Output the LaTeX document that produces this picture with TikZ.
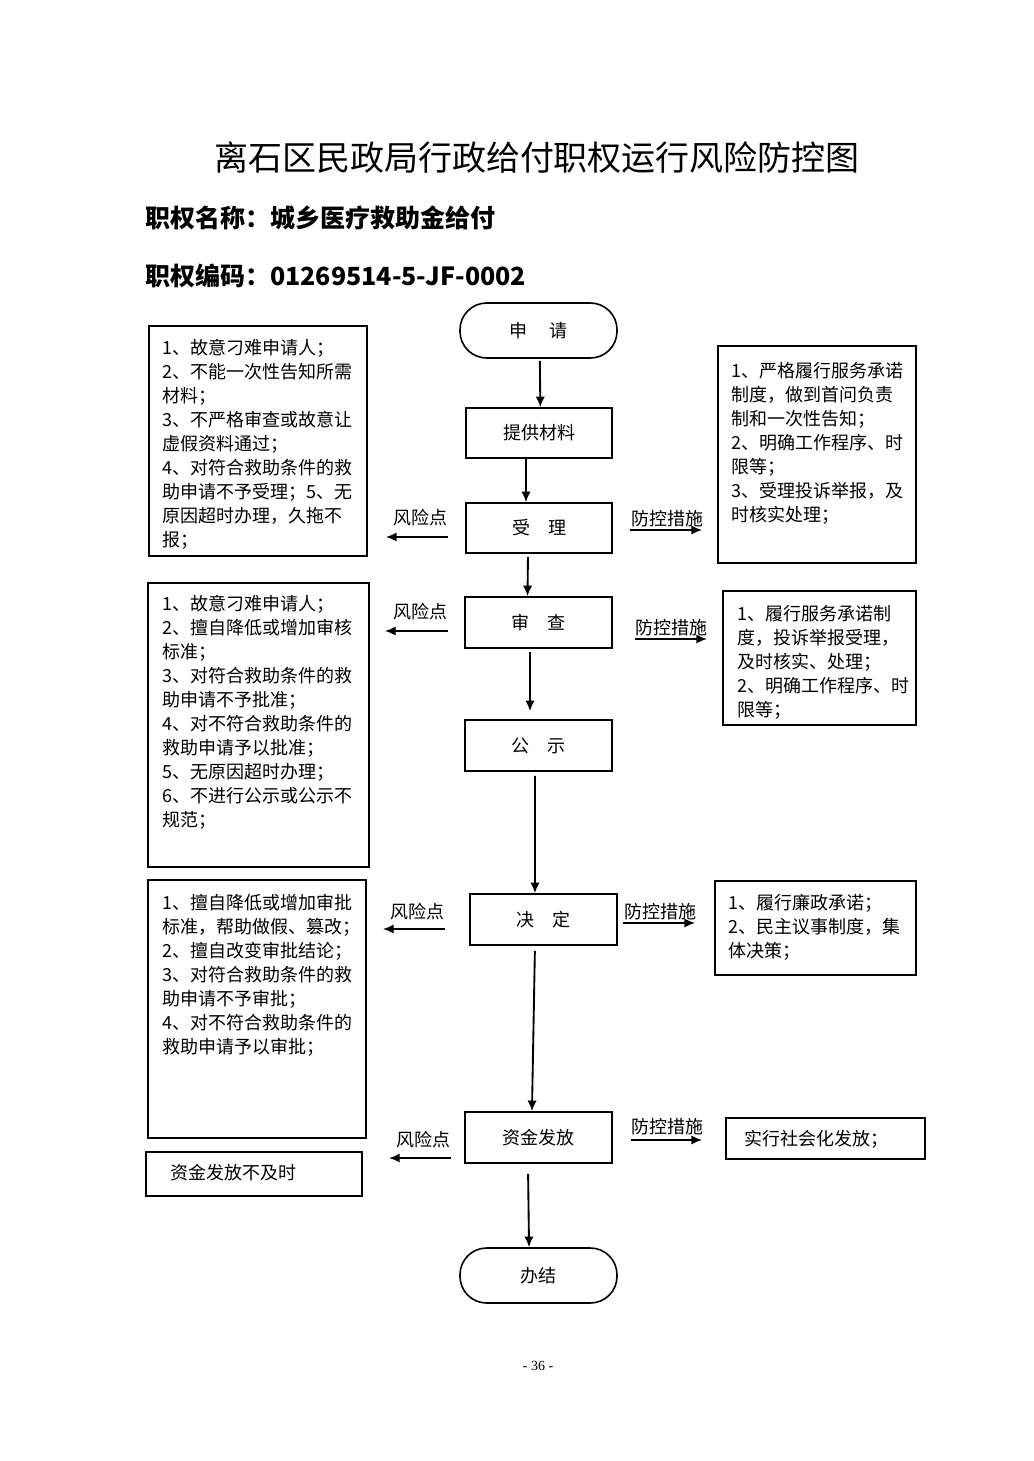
\documentclass[tikz,border=0pt]{standalone}
\usepackage{fontspec}
\setmainfont{Noto Sans CJK SC}
\newfontfamily\pnfont{Liberation Serif}
\usetikzlibrary{arrows.meta,fit}
\begin{document}
\begin{tikzpicture}[x=0.75pt,y=-0.75pt,
  bodyfont/.style={font=\fontsize{13.5pt}{18pt}\selectfont},
  flowbox/.style={draw,line width=1.2pt,inner sep=0pt},
  termbox/.style={draw,line width=1.2pt,rounded corners=20pt,inner sep=0pt},
  inlbl/.style={label={[bodyfont,inner sep=0pt]center:#1}},
  sidebox/.style={draw,line width=1.2pt,inner sep=0pt},
  sidetext/.style={anchor=north west,inner sep=0pt,align=left,bodyfont},
  flow/.style={line width=1.4pt,-{Latex[length=8pt,width=7pt]}},
  lbl/.style={inner sep=0pt,bodyfont}
]
\fill[white] (0,0) rectangle (1033,1461);
\useasboundingbox (0,0) rectangle (1033,1461);

% titles
\node[inner sep=0pt,font=\fontsize{25.5pt}{30pt}\selectfont] (title) at (537,158) {离石区民政局行政给付职权运行风险防控图};
\node[anchor=west,inner sep=0pt,font=\fontsize{18.75pt}{22pt}\selectfont\bfseries] (name) at (145,218) {职权名称：城乡医疗救助金给付};
\node[anchor=west,inner sep=0pt,font=\fontsize{18.75pt}{22pt}\selectfont\bfseries] (code) at (145,276) {职权编码：01269514-5-JF-0002};

% flow nodes
\node[termbox,fit={(460,303)(617,358)},inlbl={申\hspace{16pt}请}] (sq) {};
\node[flowbox,fit={(466,408)(612,458)},inlbl={提供材料}] (tg) {};
\node[flowbox,fit={(466,503)(612,553)},inlbl={受\hspace{13.5pt}理}] (sl) {};
\node[flowbox,fit={(465,597)(612,648)},inlbl={审\hspace{13.5pt}查}] (sc) {};
\node[flowbox,fit={(465,720)(612,771)},inlbl={公\hspace{13.5pt}示}] (gs) {};
\node[flowbox,fit={(470,894)(617,945)},inlbl={决\hspace{13.5pt}定}] (jd) {};
\node[flowbox,fit={(465,1112)(612,1163)},inlbl={资金发放}] (zj) {};
\node[termbox,fit={(460,1248)(617,1303)},inlbl={办结}] (bj) {};

% flow connectors
\draw[flow,shorten <=1.5pt] ([xshift=1pt]sq.south) -- ([xshift=1pt]tg.north);
\draw[flow] ([xshift=-9.75pt]tg.south) -- ([xshift=-9.75pt]sl.north);
\draw[flow,shorten <=2.25pt] ([xshift=-8.25pt]sl.south) -- ([xshift=-8.25pt]sc.north);
\draw[flow,shorten <=2.5pt,shorten >=6pt] ([xshift=-6.4pt]sc.south) -- ([xshift=-6.4pt]gs.north);
\draw[flow,shorten <=3pt] ([xshift=-2.6pt]gs.south) -- ([xshift=-6.4pt]jd.north);
\draw[flow,shorten <=3.75pt] ([xshift=-6.4pt]jd.south) -- ([xshift=-4.9pt]zj.north);
\draw[flow,shorten <=7.5pt] ([xshift=-7.9pt]zj.south) -- ([xshift=-7.1pt]bj.north);

% left risk boxes
\node[sidebox,fit={(149,326)(367,556)}] (L1) {};
\node[sidetext] (L1t) at (162,339) {1、故意刁难申请人；\\2、不能一次性告知所需\\材料；\\3、不严格审查或故意让\\虚假资料通过；\\4、对符合救助条件的救\\助申请不予受理；5、无\\原因超时办理，久拖不\\报；};
\node[sidebox,fit={(148,583)(369,867)}] (L2) {};
\node[sidetext] (L2t) at (162,595) {1、故意刁难申请人；\\2、擅自降低或增加审核\\标准；\\3、对符合救助条件的救\\助申请不予批准；\\4、对不符合救助条件的\\救助申请予以批准；\\5、无原因超时办理；\\6、不进行公示或公示不\\规范；};
\node[sidebox,fit={(148,880)(366,1138)}] (L3) {};
\node[sidetext] (L3t) at (162,894) {1、擅自降低或增加审批\\标准，帮助做假、篡改；\\2、擅自改变审批结论；\\3、对符合救助条件的救\\助申请不予审批；\\4、对不符合救助条件的\\救助申请予以审批；};
\node[sidebox,fit={(146,1152)(362,1196)}] (L4) {};
\node[lbl] (L4t) at (233,1173) {资金发放不及时};

% right measure boxes
\node[sidebox,fit={(718,346)(916,563)}] (R1) {};
\node[sidetext] (R1t) at (731,362) {1、严格履行服务承诺\\制度，做到首问负责\\制和一次性告知；\\2、明确工作程序、时\\限等；\\3、受理投诉举报，及\\时核实处理；};
\node[sidebox,fit={(723,591)(916,725)}] (R2) {};
\node[sidetext] (R2t) at (737,605) {1、履行服务承诺制\\度，投诉举报受理，\\及时核实、处理；\\2、明确工作程序、时\\限等；};
\node[sidebox,fit={(715,881)(916,975)}] (R3) {};
\node[sidetext] (R3t) at (728,894) {1、履行廉政承诺；\\2、民主议事制度，集\\体决策；};
\node[sidebox,fit={(726,1118)(925,1159)}] (R4) {};
\node[lbl] (R4t) at (816,1139) {实行社会化发放；};

% side arrows and labels
\coordinate (a1s) at (448,537); \coordinate (a1e) at (386,537);
\coordinate (b1s) at (630,530); \coordinate (b1e) at (702,530);
\node[lbl] (ra1) at (420,518) {风险点};
\node[lbl] (rb1) at (667,519) {防控措施};
\draw[flow] (a1s) -- (a1e);
\draw[flow] (b1s) -- (b1e);

\coordinate (a2s) at (448,631); \coordinate (a2e) at (385,631);
\coordinate (b2s) at (635,639); \coordinate (b2e) at (707,639);
\node[lbl] (ra2) at (420,612) {风险点};
\node[lbl] (rb2) at (671,628) {防控措施};
\draw[flow] (a2s) -- (a2e);
\draw[flow] (b2s) -- (b2e);

\coordinate (a3s) at (445,929); \coordinate (a3e) at (383,929);
\coordinate (b3s) at (623,923); \coordinate (b3e) at (695,923);
\node[lbl] (ra3) at (417,912) {风险点};
\node[lbl] (rb3) at (660,912) {防控措施};
\draw[flow] (a3s) -- (a3e);
\draw[flow] (b3s) -- (b3e);

\coordinate (a4s) at (451,1158); \coordinate (a4e) at (389,1158);
\coordinate (b4s) at (631,1140); \coordinate (b4e) at (702,1140);
\node[lbl] (ra4) at (423,1140) {风险点};
\node[lbl] (rb4) at (667,1127) {防控措施};
\draw[flow] (a4s) -- (a4e);
\draw[flow] (b4s) -- (b4e);

% page number
\node[inner sep=0pt,font=\pnfont\fontsize{10.5pt}{12pt}\selectfont] (pg) at (538,1366) {- 36 -};
\end{tikzpicture}
\end{document}
